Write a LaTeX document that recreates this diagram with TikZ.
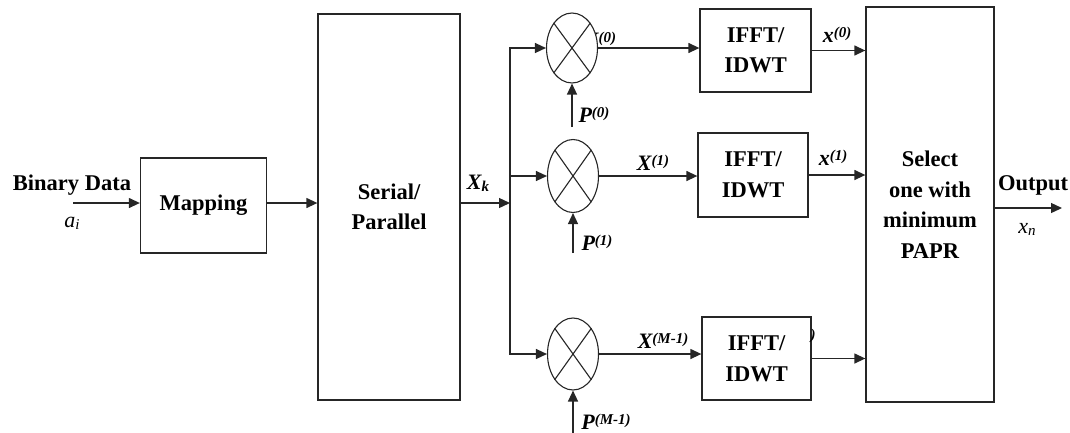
\documentclass[tikz,border=0pt]{standalone}
\usepackage{fontspec}
\setmainfont{Liberation Serif}
\usetikzlibrary{shapes.geometric,arrows.meta}
\newcommand{\blktxt}{\fontsize{22.5}{30.5}\selectfont\bfseries}
\newcommand{\mylbl}[2]{{\fontsize{22}{22}\selectfont\bfseries\itshape #1}\raisebox{0.5em}{\fontsize{15}{15}\selectfont\bfseries\itshape #2}}
\newcommand{\mysubb}[2]{{\fontsize{22}{22}\selectfont\bfseries\itshape #1}\raisebox{-0.2em}{\fontsize{15}{15}\selectfont\bfseries\itshape #2}}
\newcommand{\mysubr}[2]{{\fontsize{22}{22}\selectfont\itshape #1}\raisebox{-0.2em}{\fontsize{15}{15}\selectfont\itshape #2}}
\begin{document}
\begin{tikzpicture}[x=1pt,y=-1pt,
  blk/.style={draw=black!85, line width=1.3pt, rectangle, inner sep=0pt, align=center, font=\blktxt, fill=white},
  mix/.style={draw=black!85, ellipse, line width=1.1pt, minimum width=51pt, minimum height=71pt, inner sep=0pt, fill=white},
  arr/.style={draw=black!85, line width=1.3pt, -{Triangle[length=11pt,width=10pt]}},
  lab/.style={inner sep=0pt, anchor=base},
  txt/.style={inner sep=0pt, anchor=base, font=\blktxt}]
\useasboundingbox (0,0) rectangle (1070,432);

% label partly hidden behind the first mixer
\node[lab] (lx0) at (600,47) {\mylbl{X}{(0)}};

% blocks
\node[blk, minimum width=126pt, minimum height=95pt] (map) at (203.5,205.5) {Mapping};
\node[blk, minimum width=142pt, minimum height=386pt] (sp) at (389,207) {Serial/\\Parallel};
\node[blk, minimum width=111pt, minimum height=83pt] (if0) at (755.5,50.5) {IFFT/\\IDWT};
\node[blk, minimum width=110pt, minimum height=84pt] (if1) at (753,175) {IFFT/\\IDWT};
\node[blk, minimum width=109pt, minimum height=83pt] (if2) at (756.5,358.5) {IFFT/\\IDWT};
\node[blk, minimum width=128pt, minimum height=395pt] (sel) at (930,204.5) {Select\\one with\\minimum\\PAPR};

% mixers
\node[mix, minimum height=70pt] (mix0) at (572,48) {};
\node[mix, minimum height=73pt] (mix1) at (573,176) {};
\node[mix, minimum height=72pt] (mix2) at (573,354) {};
\foreach \m in {mix0,mix1,mix2}{
  \draw[black!85, line width=1.1pt] (\m.north east) -- (\m.south west) (\m.north west) -- (\m.south east);
}

% input / output
\node[txt] (bd) at (72,190) {Binary Data};
\node[lab] (ai) at (72,227) {\mysubr{a}{i}};
\coordinate (src) at (73,203);
\draw[arr] (src) -- (src -| map.west);
\draw[arr] (map.east |- src) -- (sp.west |- src);
\coordinate (bus) at (510,203);
\draw[arr] (sp.east |- bus) -- (bus);
\node[lab] (xk) at (478,189) {\mysubb{X}{k}};
\draw[arr] (bus) |- (mix0.west);
\draw[arr] (bus) |- (mix1.west);
\draw[arr] (bus) |- (mix2.west);

% P inputs
\coordinate (p0) at (572,127);
\coordinate (p1) at (573,253);
\coordinate (p2) at (573,440);
\draw[arr] (p0) -- (mix0.south);
\draw[arr] (p1) -- (mix1.south);
\draw[arr] (p2) -- (mix2.south);
\node[lab] (lp0) at (594,122) {\mylbl{P}{(0)}};
\node[lab] (lp1) at (597,250) {\mylbl{P}{(1)}};
\node[lab] (lp2) at (606,429) {\mylbl{P}{(M-1)}};

% mixer outputs
\draw[arr] (mix0.east) -- (mix0.east -| if0.west);
\draw[arr] (mix1.east) -- (mix1.east -| if1.west);
\draw[arr] (mix2.east) -- (mix2.east -| if2.west);
\node[lab] (lx1) at (653,170) {\mylbl{X}{(1)}};
\node[lab] (lx2) at (663,348) {\mylbl{X}{(M-1)}};

% IFFT outputs
\draw[arr] (if0.east) -- (if0.east -| sel.west);
\draw[arr] (if1.east) -- (if1.east -| sel.west);
\draw[arr] (if2.east) -- (if2.east -| sel.west);
\node[lab] (lo0) at (837,42) {\mylbl{x}{(0)}};
\node[lab] (lo1) at (833,165) {\mylbl{x}{(1)}};
\node[inner sep=0pt, font=\fontsize{15}{15}\selectfont\bfseries\itshape] (lo2) at (813,336) {)};

% output
\coordinate (out) at (1062,208);
\draw[arr] (sel.east |- out) -- (out);
\node[txt] (outl) at (1033,190) {Output};
\node[lab] (xn) at (1027,233) {\mysubr{x}{n}};
\end{tikzpicture}
\end{document}
